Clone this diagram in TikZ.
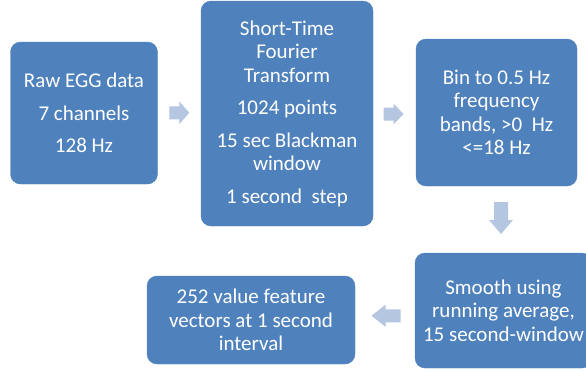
\documentclass[tikz,border=0pt]{standalone}
\usepackage{fontspec}
\setmainfont{Carlito}
\usetikzlibrary{calc}
\definecolor{boxblue}{HTML}{4F81BD}
\definecolor{arrowblue}{HTML}{B4C6E0}
\tikzset{
  stage/.style={rectangle, rounded corners=10pt, fill=boxblue, draw=boxblue,
    text=white, align=center, inner sep=0pt,
    font=\fontsize{21}{23.5}\selectfont},
  % block arrow pointing along +x: total length, head length, head width, shaft width
  pics/blockarrow/.style n args={4}{code={
    \fill[arrowblue] ({-#1/2},{-#4/2}) -- ({#1/2-#2},{-#4/2}) -- ({#1/2-#2},{-#3/2})
      -- ({#1/2},0) -- ({#1/2-#2},{#3/2}) -- ({#1/2-#2},{#4/2}) -- ({-#1/2},{#4/2}) -- cycle;
  }},
}
\newcommand{\pgap}{\\[9pt]}
\begin{document}
\begin{tikzpicture}[x=1pt,y=-1pt]
\useasboundingbox (0,0) rectangle (586,370);

% processing stages
\node[stage, minimum width=147pt, minimum height=142pt] (raw) at (84,113)
  {Raw EGG data\pgap 7 channels\pgap 128 Hz};
\node[stage, minimum width=172pt, minimum height=225pt] (stft) at (287,113.5)
  {Short-Time\\Fourier\\Transform\pgap 1024 points\pgap 15 sec Blackman\\window\pgap 1 second~~step};
\node[stage, minimum width=161pt, minimum height=147pt] (bin) at (496.5,112.5)
  {Bin to 0.5 Hz\\frequency\\bands, >0~~Hz\\<=18 Hz};
\node[stage, minimum width=177pt, minimum height=115pt] (smooth) at (503.5,310.5)
  {Smooth using\\running average,\\15 second-window};
\node[stage, minimum width=208pt, minimum height=88pt] (vec) at (251,320)
  {252 value feature\\vectors at 1 second\\interval};

% block arrows between stages
\coordinate (a1) at ($(raw.east)!0.5!(stft.west)+(0,-0.5)$);
\coordinate (a2) at ($(stft.east)!0.5!(bin.west)+(-1,1)$);
\coordinate (a3) at ($(bin.south)!0.5!(smooth.north)+(1,-1.5)$);
\coordinate (a4) at ($(vec.east)!0.5!(smooth.west)+(1,0.5)$);
\pic[shift={(a1)}] {blockarrow={20}{10}{23}{13}};
\pic[shift={(a2)}] {blockarrow={20}{10}{21}{13}};
\pic[shift={(a3)}, rotate=-90] {blockarrow={32}{14}{24}{14}};
\pic[shift={(a4)}, rotate=180] {blockarrow={29}{14}{22}{13}};
\end{tikzpicture}
\end{document}
